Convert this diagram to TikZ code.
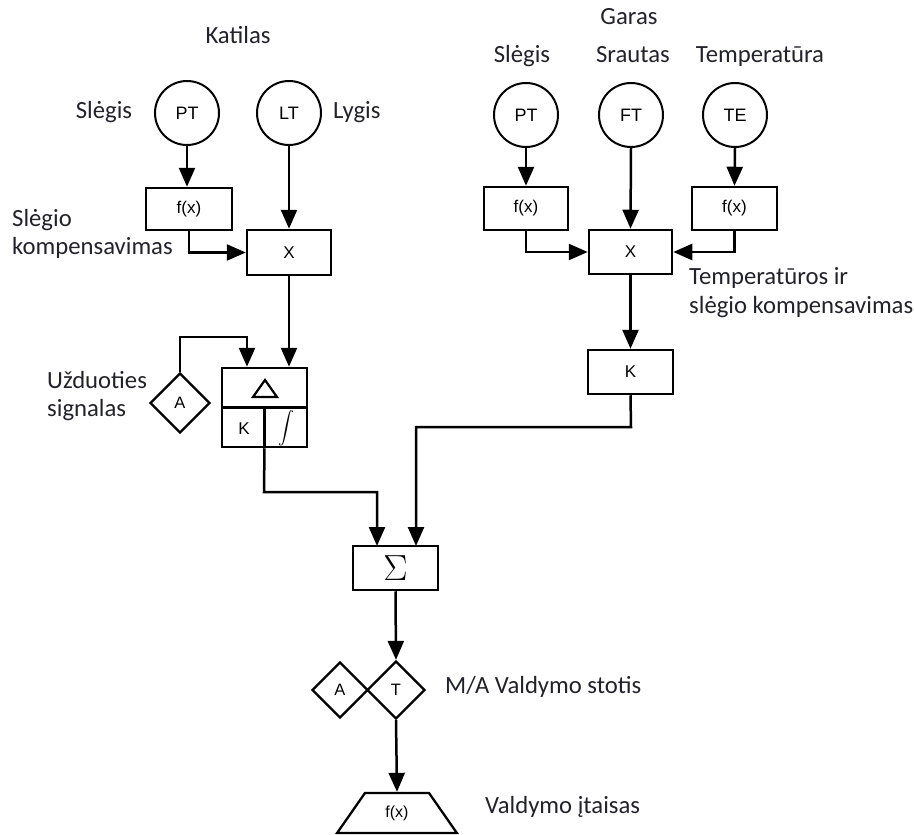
\documentclass[tikz,border=0pt]{standalone}
\usepackage{fontspec}
\usepackage{graphicx}
\setmainfont{Carlito}
\newfontfamily\innerfont{Liberation Sans}
\usetikzlibrary{shapes.geometric,arrows.meta}
\definecolor{lab}{RGB}{34,34,42}
\tikzset{
  lbl/.style={font=\fontsize{24.7}{29}\selectfont, text=lab, inner sep=0pt, text height=15.9pt, text depth=0pt},
  meas/.style={circle, draw, line width=2pt, minimum size=64pt, inner sep=0pt, font=\innerfont\fontsize{18}{20}\selectfont},
  blk/.style={rectangle, draw, line width=2.5pt, inner sep=0pt, font=\innerfont\fontsize{17}{19}\selectfont},
  dia/.style={diamond, draw, line width=2.3pt, inner sep=0pt, font=\innerfont\fontsize{16.5}{18}\selectfont},
  arr/.style={line width=2.5pt, -{Triangle[length=19pt,width=16pt]}},
}
\begin{document}
\begin{tikzpicture}[x=1pt,y=-1pt]
\useasboundingbox (0,0) rectangle (914,835);
% --- left (Katilas)
\node[meas] (pt1) at (187,113) {PT};
\node[meas] (lt) at (289,113) {LT};
\node[blk, minimum width=86pt, minimum height=42pt] (fx1) at (189,209) {f(x)};
\node[blk, minimum width=84pt, minimum height=45pt] (x1) at (289,252.5) {X};
\node[blk, minimum width=85pt, minimum height=79pt] (db) at (264.5,407.5) {};
\draw[line width=2.5pt] (db.west) -- (db.east);
\draw[line width=2.5pt] (db.center) -- (db.south);
\draw[line width=2.2pt, line join=miter] (253,397) -- (277,397) -- (265,380) -- cycle;
\node[font=\innerfont\fontsize{17}{19}\selectfont, inner sep=0pt] (kk) at (244,429) {K};
\node[inner sep=0pt] (intg) at (286,428) {\scalebox{1.6}{$\displaystyle\int$}};
\node[dia, minimum size=60pt] (a1) at (180,403) {A};
\coordinate (fb) at (247,337);
% --- right (Garas)
\node[meas] (pt2) at (526,115) {PT};
\node[meas] (ft) at (631,115) {FT};
\node[meas] (te) at (735,115) {TE};
\node[blk, minimum width=84pt, minimum height=43pt] (fx2) at (526,208.5) {f(x)};
\node[blk, minimum width=83pt, minimum height=44pt] (x2) at (630.5,252) {X};
\node[blk, minimum width=85pt, minimum height=43pt] (fx3) at (734.5,208.5) {f(x)};
\node[blk, minimum width=85pt, minimum height=44pt] (kb) at (630.5,372) {K};
% --- bottom
\node[blk, minimum width=85pt, minimum height=44pt] (sig) at (395.5,568) {\scalebox{2.1}{$\Sigma$}};
\node[dia, minimum size=58pt] (t) at (396,690) {T};
\node[dia, minimum size=56pt] (a2) at (340,690) {A};
\node[trapezium, draw, line width=2.3pt, trapezium stretches=true, trapezium left angle=56, trapezium right angle=56, minimum width=120pt, minimum height=40pt, inner sep=0pt, font=\innerfont\fontsize{16}{18}\selectfont] (act) at (397,813) {f(x)};
\coordinate (j1) at (264,492);
\coordinate (j2) at (631,427);
\coordinate (s1) at (377,546);
\coordinate (s2) at (416,546);
% --- connectors
\draw[arr] (pt1.south) -- (pt1.south |- fx1.north);
\draw[arr] (lt.south) -- (x1.north);
\draw[arr] (fx1.south) |- (x1.west);
\draw[arr] (x1.south) -- (x1.south |- db.north);
\draw[arr] (a1.north) |- (fb) -- (fb |- db.north);
\draw[arr] (pt2.south) -- (fx2.north);
\draw[arr] (ft.south) -- (x2.north);
\draw[arr] (te.south) -- (fx3.north);
\draw[arr] (fx2.south) |- (x2.west);
\draw[arr] (fx3.south) |- (x2.east);
\draw[arr] (x2.south) -- (kb.north);
\draw[arr] (db.south) -- (j1) -| (s1);
\draw[arr] (kb.south) -- (j2) -| (s2);
\draw[arr] (sig.south) -- (t.north);
\draw[arr] (t.south) -- (act.north);
% --- labels
\node[lbl] (katilas) at (238,36) {Katilas};
\node[lbl] (sl1) at (104,111) {Slėgis};
\node[lbl, anchor=west] (lyg) at (333,111) {Lygis};
\node[lbl, anchor=west] (slc1) at (12,219) {Slėgio};
\node[lbl, anchor=west] (slc2) at (12,247) {kompensavimas};
\node[lbl] (garas) at (629,17) {Garas};
\node[lbl] (sl2) at (522,55) {Slėgis};
\node[lbl] (sra) at (633,55) {Srautas};
\node[lbl] (tem) at (760,55) {Temperatūra};
\node[lbl, anchor=west] (tk1) at (689,277) {Temperatūros ir};
\node[lbl, anchor=west] (tk2) at (689,306) {slėgio kompensavimas};
\node[lbl, anchor=west] (uz1) at (47,381) {Užduoties};
\node[lbl, anchor=west] (uz2) at (47,409) {signalas};
\node[lbl, anchor=west] (ma) at (445,686) {M/A Valdymo stotis};
\node[lbl, anchor=west] (vi) at (485,806) {Valdymo įtaisas};
\end{tikzpicture}
\end{document}
